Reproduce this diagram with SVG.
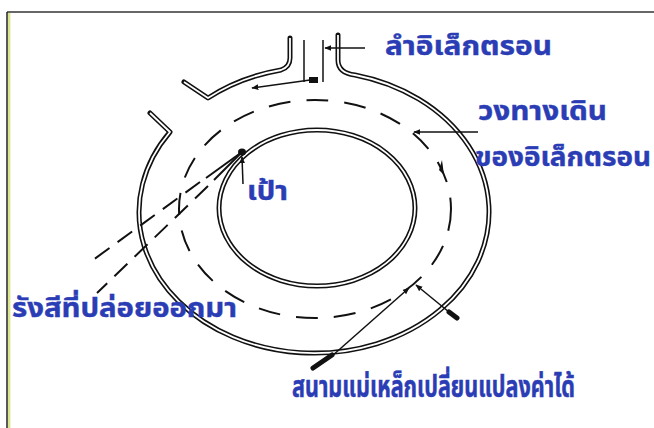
<svg xmlns="http://www.w3.org/2000/svg" width="654" height="428" viewBox="0 0 654 428">
  <style>
    .wall { fill: none; stroke: #111; stroke-width: 5; stroke-linejoin: round; stroke-linecap: round; }
    .wall-in { fill: none; stroke: #fff; stroke-width: 1.8; stroke-linejoin: round; }
    .orbit { fill: none; stroke: #111; stroke-width: 2; stroke-dasharray: 22 16; }
    .ray { fill: none; stroke: #111; stroke-width: 2; }
    .ray-d { fill: none; stroke: #111; stroke-width: 2; stroke-dasharray: 18 10; }
    .thin { fill: none; stroke: #111; stroke-width: 1.5; }
    .lbl { font-family: "Noto Sans Thai", "Loma", "Garuda", "Noto Sans", "DejaVu Sans", sans-serif; font-weight: bold; font-size: 26px; fill: #2b3db5; stroke: #2b3db5; stroke-width: 0.4; }
    .big { font-size: 24px; }
  </style>
  <defs>
    <marker id="ah" viewBox="0 0 10 10" refX="9" refY="5" markerWidth="7" markerHeight="7" orient="auto-start-reverse" markerUnits="userSpaceOnUse">
      <path d="M0,1 L10,5 L0,9 z" fill="#111"/>
    </marker>
    <!-- outer vacuum ring wall, from the right beam pipe round to the left opening -->
    <path id="outerWall" d="M338,35 L338,60 Q338,73 355,75 A175,141 0 1,1 170,132 L150,113"/>
    <!-- injection arm on the left of the beam pipe -->
    <path id="armWall" d="M184,82 L208,98 A175,141 0 0,1 281,70 Q290,67 290,58 L290,38"/>
    <ellipse id="innerWall" cx="317" cy="208" rx="98" ry="78"/>
  </defs>

  <rect width="654" height="428" fill="#fff"/>
  <!-- frame -->
  <line x1="7" y1="12" x2="654" y2="12" stroke="#666" stroke-width="2"/>
  <line x1="7" y1="12" x2="7" y2="428" stroke="#222" stroke-width="1.5"/>
  <line x1="9.2" y1="13" x2="9.2" y2="428" stroke="#dde58c" stroke-width="2.4"/>

  <g id="chamber">
    <use href="#outerWall" class="wall"/>
    <use href="#outerWall" class="wall-in"/>
    <use href="#armWall" class="wall"/>
    <use href="#armWall" class="wall-in"/>
    <use href="#innerWall" class="wall"/>
    <use href="#innerWall" class="wall-in"/>
  </g>

  <g id="beam">
    <line x1="304" y1="40" x2="304" y2="82" class="thin"/>
    <line x1="323" y1="40" x2="323" y2="82" class="thin"/>
    <rect x="309" y="77" width="9" height="6" fill="#111"/>
    <line x1="310" y1="80" x2="252" y2="88" class="thin" marker-end="url(#ah)"/>
  </g>

  <g id="orbit">
    <ellipse cx="315" cy="209" rx="136" ry="109" class="orbit"/>
    <path d="M444,175 L442,160 L439,170 z" fill="#111"/>
  </g>

  <g id="target">
    <ellipse cx="242" cy="152" rx="4" ry="3.5" fill="#111"/>
  </g>

  <g id="radiation">
    <line x1="242" y1="152" x2="206" y2="178" class="ray"/>
    <line x1="200" y1="182" x2="93" y2="260" class="ray-d"/>
    <line x1="242" y1="152" x2="214" y2="180" class="ray"/>
    <line x1="208" y1="186" x2="97" y2="293" class="ray-d"/>
  </g>

  <g id="magnet">
    <line x1="332" y1="356" x2="409" y2="288" class="thin" marker-end="url(#ah)"/>
    <line x1="313" y1="368" x2="332" y2="355" stroke="#111" stroke-width="5" stroke-linecap="round"/>
    <line x1="449" y1="312" x2="416" y2="285" class="thin" marker-end="url(#ah)"/>
    <line x1="449" y1="312" x2="457" y2="318" stroke="#111" stroke-width="5" stroke-linecap="round"/>
  </g>

  <g id="connectors">
    <line x1="365" y1="48" x2="325" y2="48" class="thin" marker-end="url(#ah)"/>
    <line x1="478" y1="132" x2="414" y2="132" class="thin" marker-end="url(#ah)"/>
    <line x1="243" y1="184" x2="242" y2="157" class="thin" marker-end="url(#ah)"/>
  </g>

  <g id="labels">
    <text class="lbl" x="385" y="55" textLength="167" lengthAdjust="spacingAndGlyphs">ลำอิเล็กตรอน</text>
    <text class="lbl" x="478" y="120" textLength="129" lengthAdjust="spacingAndGlyphs">วงทางเดิน</text>
    <text class="lbl" x="475" y="166" textLength="176" lengthAdjust="spacingAndGlyphs">ของอิเล็กตรอน</text>
    <text class="lbl" x="247" y="200" textLength="41" lengthAdjust="spacingAndGlyphs">เป้า</text>
    <text class="lbl" x="12" y="317" textLength="225" lengthAdjust="spacingAndGlyphs">รังสีที่ปล่อยออกมา</text>
    <g transform="translate(292,397) scale(1,1.22)">
      <text class="lbl big" x="0" y="0" textLength="283" lengthAdjust="spacingAndGlyphs">สนามแม่เหล็กเปลี่ยนแปลงค่าได้</text>
    </g>
  </g>
</svg>
